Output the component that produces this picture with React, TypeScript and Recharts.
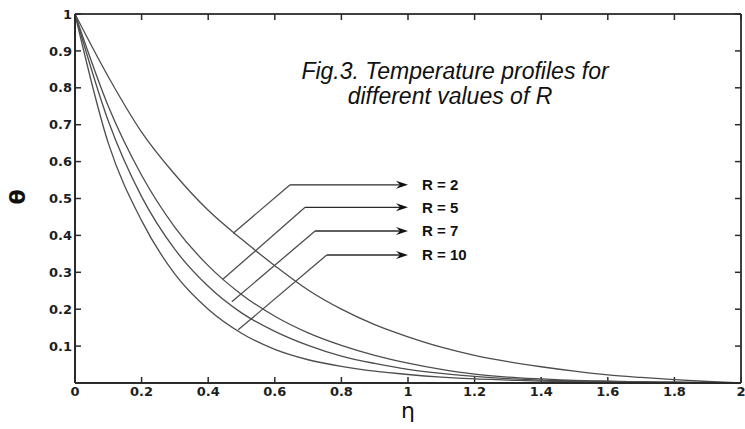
import { LineChart, Line, XAxis, YAxis, ReferenceLine } from "recharts";

// similarity variable eta and temperature profiles theta for each R
const ETA = [0, 0.1, 0.2, 0.3, 0.4, 0.5, 0.6, 0.7, 0.8, 0.9, 1.0, 1.1, 1.2, 1.3, 1.4, 1.5, 1.6, 1.7, 1.8, 1.9, 2.0];
const THETA_R2 = [1, 0.83, 0.68, 0.565, 0.468, 0.39, 0.318, 0.252, 0.2, 0.158, 0.125, 0.097, 0.075, 0.058, 0.044, 0.032, 0.022, 0.015, 0.009, 0.004, 0];
const THETA_R5 = [1, 0.75, 0.563, 0.422, 0.318, 0.24, 0.181, 0.136, 0.102, 0.075, 0.054, 0.037, 0.024, 0.016, 0.011, 0.007, 0.005, 0.003, 0.002, 0.001, 0];
const THETA_R7 = [1, 0.71, 0.505, 0.362, 0.262, 0.19, 0.14, 0.102, 0.073, 0.053, 0.037, 0.026, 0.018, 0.012, 0.008, 0.006, 0.004, 0.003, 0.002, 0.001, 0];
const THETA_R10 = [1, 0.65, 0.44, 0.295, 0.2, 0.135, 0.091, 0.063, 0.045, 0.032, 0.023, 0.016, 0.011, 0.008, 0.005, 0.004, 0.003, 0.002, 0.001, 0.0005, 0];

const X_TICKS = [0, 0.2, 0.4, 0.6, 0.8, 1, 1.2, 1.4, 1.6, 1.8, 2];
const Y_TICKS = [0.1, 0.2, 0.3, 0.4, 0.5, 0.6, 0.7, 0.8, 0.9, 1];
const X_DOMAIN = [0, 2];
const Y_DOMAIN = [0, 1];

// leader lines: point on the curve -> bend -> arrow tip, in data units
const R_LABELS = ["R = 2", "R = 5", "R = 7", "R = 10"];
const LEADER_START = [
  [0.475, 0.406],
  [0.444, 0.281],
  [0.471, 0.22],
  [0.49, 0.144],
];
const LEADER_BEND = [
  [0.646, 0.537],
  [0.691, 0.476],
  [0.721, 0.412],
  [0.756, 0.347],
];
const ARROW_TIP_X = 1.0;

const SERIES = [
  { key: "r2", values: THETA_R2 },
  { key: "r5", values: THETA_R5 },
  { key: "r7", values: THETA_R7 },
  { key: "r10", values: THETA_R10 },
];

const data = ETA.map((eta, i) => {
  const row: Record<string, number> = { eta };
  SERIES.forEach((s) => (row[s.key] = s.values[i]));
  return row;
});

const INK = "#2a2a2a";
const FRAME = "#404040";
const CURVE = "#4d4d4d";
const TICK_LEN = 6;
const tickFont = { fill: "#1e1e1e", fontSize: 13, fontWeight: 700, fontFamily: "DejaVu Sans" };

const ArrowShape = (props: any) => {
  const { x1, y1, x2, y2 } = props;
  return (
    <g>
      <line x1={x1} y1={y1} x2={x2 - 8} y2={y2} stroke={INK} strokeWidth={1.4} />
      <polygon points={`${x2},${y2} ${x2 - 12},${y2 - 4} ${x2 - 8},${y2} ${x2 - 12},${y2 + 4}`} fill="#111" />
    </g>
  );
};

// inward tick marks at both ends of a full-height / full-width segment
const VerticalTicks = (props: any) => {
  const { x1, y1, y2 } = props;
  const top = Math.min(y1, y2);
  const bottom = Math.max(y1, y2);
  return (
    <g stroke={INK} strokeWidth={1.5}>
      <line x1={x1} y1={top} x2={x1} y2={top + TICK_LEN} />
      <line x1={x1} y1={bottom} x2={x1} y2={bottom - TICK_LEN} />
    </g>
  );
};

const HorizontalTicks = (props: any) => {
  const { x1, x2, y1 } = props;
  const left = Math.min(x1, x2);
  const right = Math.max(x1, x2);
  return (
    <g stroke={INK} strokeWidth={1.5}>
      <line x1={left} y1={y1} x2={left + TICK_LEN} y2={y1} />
      <line x1={right} y1={y1} x2={right - TICK_LEN} y2={y1} />
    </g>
  );
};

export default function App() {
  return (
    <div style={{ position: "absolute", left: 0, top: 0, width: 745, height: 429, background: "#fff" }}>
      <LineChart
        width={745}
        height={429}
        data={data}
        margin={{ top: 14, right: 4, bottom: 16, left: 15 }}
      >
        <XAxis
          dataKey="eta"
          type="number"
          domain={X_DOMAIN}
          ticks={X_TICKS}
          tick={tickFont}
          tickLine={false}
          tickSize={0}
          tickMargin={4}
          height={30}
          axisLine={{ stroke: INK, strokeWidth: 2 }}
          interval={0}
        />
        <YAxis
          type="number"
          domain={Y_DOMAIN}
          ticks={Y_TICKS}
          tick={tickFont}
          tickLine={false}
          tickSize={0}
          tickMargin={3}
          width={60}
          axisLine={{ stroke: INK, strokeWidth: 2 }}
          interval={0}
        />
        {/* top and right edges of the box */}
        <ReferenceLine
          ifOverflow="visible"
          segment={[
            { x: X_DOMAIN[0], y: Y_DOMAIN[1] },
            { x: X_DOMAIN[1], y: Y_DOMAIN[1] },
          ]}
          stroke={FRAME}
          strokeWidth={2}
        />
        <ReferenceLine
          ifOverflow="visible"
          segment={[
            { x: X_DOMAIN[1], y: Y_DOMAIN[0] },
            { x: X_DOMAIN[1], y: Y_DOMAIN[1] },
          ]}
          stroke={FRAME}
          strokeWidth={2}
        />
        {X_TICKS.map((t) => (
          <ReferenceLine
            key={`xt-${t}`}
            ifOverflow="visible"
            segment={[
              { x: t, y: Y_DOMAIN[0] },
              { x: t, y: Y_DOMAIN[1] },
            ]}
            shape={VerticalTicks}
          />
        ))}
        {Y_TICKS.map((t) => (
          <ReferenceLine
            key={`yt-${t}`}
            ifOverflow="visible"
            segment={[
              { x: X_DOMAIN[0], y: t },
              { x: X_DOMAIN[1], y: t },
            ]}
            shape={HorizontalTicks}
          />
        ))}
        {SERIES.map((s) => (
          <Line
            key={s.key}
            dataKey={s.key}
            type="monotone"
            stroke={CURVE}
            strokeWidth={1.3}
            dot={false}
            isAnimationActive={false}
          />
        ))}
        {R_LABELS.map((label, i) => (
          <ReferenceLine
            key={`lead-${i}`}
            segment={[
              { x: LEADER_START[i][0], y: LEADER_START[i][1] },
              { x: LEADER_BEND[i][0], y: LEADER_BEND[i][1] },
            ]}
            stroke={CURVE}
            strokeWidth={1.3}
          />
        ))}
        {R_LABELS.map((label, i) => (
          <ReferenceLine
            key={`arrow-${i}`}
            segment={[
              { x: LEADER_BEND[i][0], y: LEADER_BEND[i][1] },
              { x: ARROW_TIP_X, y: LEADER_BEND[i][1] },
            ]}
            shape={ArrowShape}
            label={{
              value: label,
              position: "right",
              offset: 14,
              fill: "#111",
              fontSize: 15,
              fontWeight: 700,
              fontFamily: "Liberation Sans",
            }}
          />
        ))}
      </LineChart>
      <svg
        width={745}
        height={429}
        style={{ position: "absolute", left: 0, top: 0, pointerEvents: "none" }}
      >
        <g fontFamily="Liberation Sans" fontStyle="italic" fontSize={23} fill="#111" textAnchor="middle">
          <text x={455} y={79}>Fig.3. Temperature profiles for</text>
          <text x={450} y={104}>different values of R</text>
        </g>
        <text x={408} y={418} textAnchor="middle" fontFamily="DejaVu Sans" fontSize={22} fill="#111">
          η
        </text>
        <text
          x={17}
          y={197}
          textAnchor="middle"
          dominantBaseline="central"
          transform="rotate(-90 17 197)"
          fontFamily="DejaVu Sans"
          fontWeight={700}
          fontSize={22}
          fill="#111"
        >
          θ
        </text>
      </svg>
    </div>
  );
}
